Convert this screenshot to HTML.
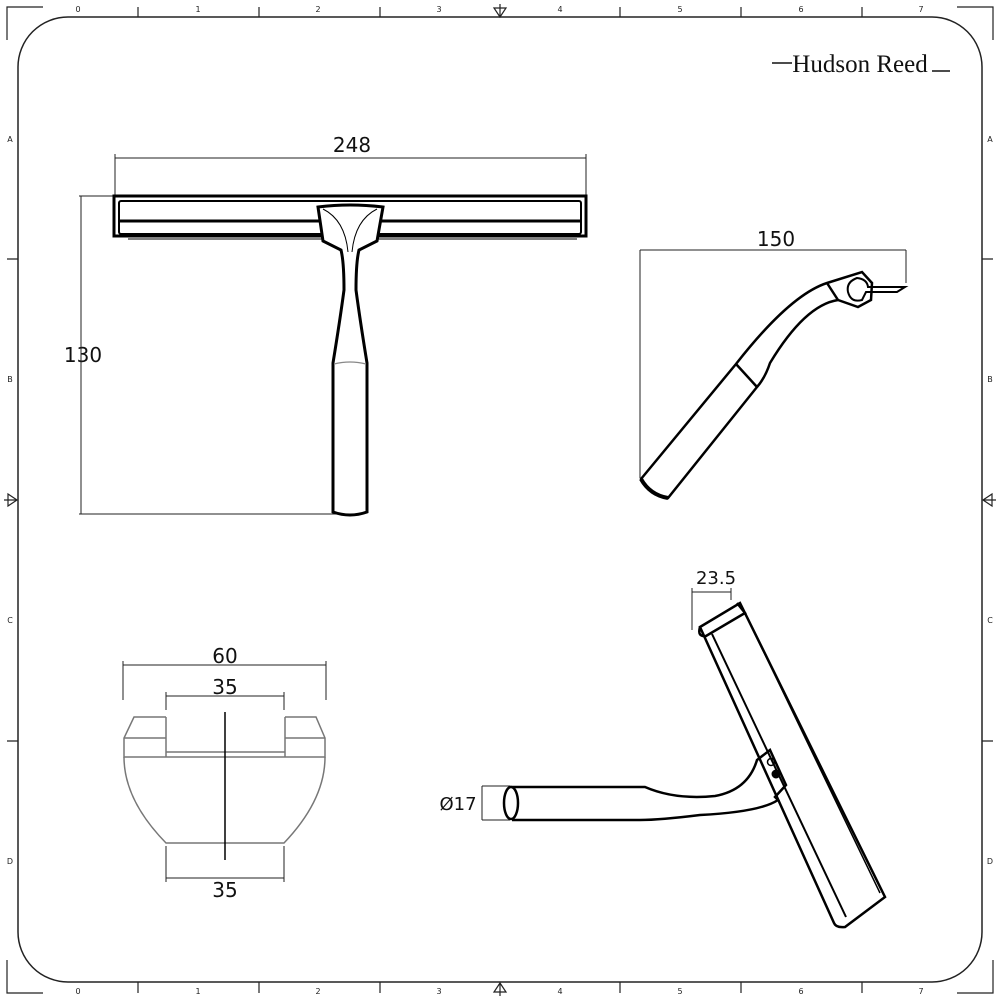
<!DOCTYPE html>
<html><head><meta charset="utf-8"><style>
html,body{margin:0;padding:0;background:#fff;width:1000px;height:1000px;overflow:hidden}
svg{display:block}
text{font-family:"DejaVu Sans","Liberation Sans",sans-serif}
</style></head><body>
<svg width="1000" height="1000" viewBox="0 0 1000 1000" xmlns="http://www.w3.org/2000/svg">
<g fill="none" stroke="#222" stroke-width="1.2">
<path d="M68,17 H932 A50,50 0 0 1 982,67 V932 A50,50 0 0 1 932,982 H68 A50,50 0 0 1 18,932 V67 A50,50 0 0 1 68,17 Z" stroke-width="1.5"/>
<path d="M7,40 V7 H43"/><path d="M993,40 V7 H957"/><path d="M7,960 V993 H43"/><path d="M993,960 V993 H957"/>
<path d="M138,17 V7 M259,17 V7 M380,17 V7 M620,17 V7 M741,17 V7 M862,17 V7"/>
<path d="M138,982 V993 M259,982 V993 M380,982 V993 M620,982 V993 M741,982 V993 M862,982 V993"/>
<path d="M18,259 H7 M18,741 H7 M982,259 H993 M982,741 H993"/>
<path d="M494,8 L506,8 L500,17 Z M500,17 V4"/>
<path d="M494,992 L506,992 L500,983 Z M500,983 V996"/>
<path d="M8,494 L8,506 L17,500 Z M17,500 H4"/>
<path d="M992,494 L992,506 L983,500 Z M983,500 H996"/>
</g>
<g font-size="8" fill="#222" text-anchor="middle">
<text x="78" y="12">0</text><text x="198" y="12">1</text><text x="318" y="12">2</text><text x="439" y="12">3</text><text x="560" y="12">4</text><text x="680" y="12">5</text><text x="801" y="12">6</text><text x="921" y="12">7</text>
<text x="78" y="994">0</text><text x="198" y="994">1</text><text x="318" y="994">2</text><text x="439" y="994">3</text><text x="560" y="994">4</text><text x="680" y="994">5</text><text x="801" y="994">6</text><text x="921" y="994">7</text>
<text x="10" y="142">A</text><text x="10" y="382">B</text><text x="10" y="623">C</text><text x="10" y="864">D</text>
<text x="990" y="142">A</text><text x="990" y="382">B</text><text x="990" y="623">C</text><text x="990" y="864">D</text>
</g>
<text x="860" y="72" font-size="25" text-anchor="middle" fill="#111" style="font-family:'Liberation Serif',serif">Hudson Reed</text>
<path d="M772,63 H792 M932,71 H950" stroke="#111" stroke-width="1.5"/>

<g font-size="20" fill="#111" text-anchor="middle">
<text x="352" y="152">248</text>
<text x="83" y="362">130</text>
<text x="776" y="246">150</text>
<text x="225" y="663">60</text>
<text x="225" y="694">35</text>
<text x="225" y="897">35</text>
<text x="716" y="584" font-size="18">23.5</text>
<text x="458" y="810" font-size="18">Ø17</text>
</g>
<g fill="none" stroke="#222" stroke-width="1">
<path d="M115,158 H586 M115,154 V196 M586,154 V196"/>
<path d="M81,196 V514 M79,196 H115 M79,514 H340"/>
<path d="M640,250 H906 M640,250 V478 M906,250 V283"/>
<path d="M123,665 H326 M123,661 V700 M326,661 V700"/>
<path d="M166,696 H284 M166,692 V710 M284,692 V710"/>
<path d="M166,878 H284 M166,846 V882 M284,846 V882"/>
<path d="M692,592 H731 M692,588 V630 M731,588 V600"/>
<path d="M482,786 V820 M482,786 H510 M482,820 H510"/>
</g>

<g fill="none" stroke="#000">
<rect x="114" y="196" width="472" height="40" stroke-width="3"/>
<rect x="119" y="201" width="462" height="33" rx="2" stroke-width="2"/>
<path d="M119,221 H581" stroke-width="3"/>
<path d="M128,237 H577 M128,239 H577" stroke-width="1"/>
<path d="M318,207 Q350,203 383,207 L377,241 L359,250 Q356,262 356,290 Q360,320 367,363 V512 Q350,518 333,512 V363 Q340,320 344,290 Q344,262 341,250 L323,241 Z" fill="#fff" stroke-width="3"/>
<path d="M323,209 Q345,220 348,252 M377,209 Q355,220 352,252" stroke-width="1"/>
<path d="M334,364 Q350,360 366,364" stroke="#888" stroke-width="1.2"/>
</g>

<g fill="none" stroke="#000" stroke-width="2.5">
<path d="M641,479 L736,364 Q790,295 827,283 L862,272 L872,283 L871,300 L858,307 L838,300 Q805,305 770,363 Q765,378 757,387 L668,498 Q650,495 641,479 Z"/>
<path d="M736,364 L757,387"/>
<path d="M827,283 L838,300"/>
<path d="M857,278 Q846,282 848,292 Q851,303 862,300 L866,292 H897 L905,287 H868 Q867,279 857,278 Z" stroke-width="2"/>
<path d="M641,479 Q650,495 668,498" stroke-width="4"/>
</g>

<g fill="none" stroke="#777" stroke-width="1.5">
<path d="M166,717 H134 L124,738 V757 H325 V738 L316,717 H285"/>
<path d="M124,738 H166 M285,738 H325"/>
<path d="M166,717 V757 M285,717 V757 M166,752 H285"/>
<path d="M124,757 Q124,800 166,843 H284 Q325,800 325,757"/>
</g>
<path d="M225,712 V860" stroke="#000" stroke-width="1.5"/>

<g fill="none" stroke="#000" stroke-width="2.5">
<path d="M700,627 L740,603 L885,897 L845,927 Q836,928 834,923 Z" fill="#fff"/>
<path d="M700,627 Q697,637 706,636 L745,613 L737,603"/>
<path d="M712,634 L846,917" stroke-width="2"/>
<path d="M745,613 L880,893" stroke-width="1.5"/>
<path d="M509,787 H645 Q675,800 715,796 Q748,790 757,760 L770,750 L786,785 L775,797 L778,800 Q760,812 700,815 Q660,820 640,820 H512"/>
<ellipse cx="511" cy="803" rx="7" ry="16" fill="#fff"/>
<circle cx="771" cy="762" r="3.5" stroke-width="1.5"/>
<circle cx="776" cy="774" r="4" fill="#000" stroke-width="1"/>
</g>
</svg>
</body></html>
